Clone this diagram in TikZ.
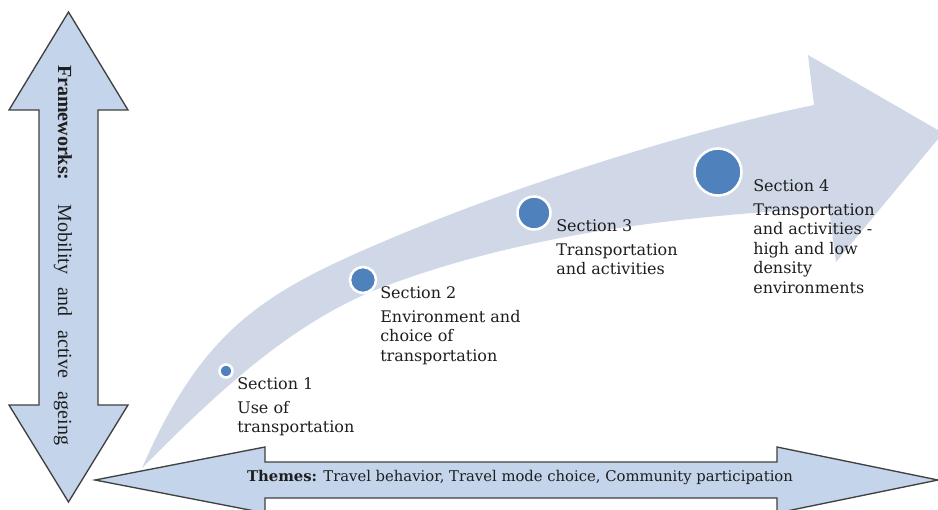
\documentclass[tikz,border=0pt]{standalone}
\usepackage{fontspec}
\setmainfont{Liberation Serif}
\newfontfamily\bookfont{DejaVu Serif}
\usepackage{tikz}
\usetikzlibrary{positioning}

\definecolor{arrowfill}{RGB}{195,212,235}
\definecolor{bandfill}{RGB}{208,216,232}
\definecolor{dotblue}{RGB}{79,129,189}
\definecolor{edgegray}{RGB}{64,64,64}
\definecolor{textdark}{RGB}{30,30,30}

\begin{document}
\begin{tikzpicture}[x=0.75pt,y=0.75pt,yscale=-1,xscale=1,
  dblarrow/.style={fill=arrowfill,draw=edgegray,line width=1pt,line join=miter},
  dot/.style={circle,fill=dotblue,draw=white,line width=1.9pt,inner sep=0pt},
  sectext/.style={anchor=north west,inner sep=0pt,align=left,text=textdark,
    font=\bookfont\fontsize{12}{14.6}\selectfont}]
\clip (0,0) rectangle (938,510);

%Curved arrow
\fill[bandfill] (142,468) .. controls (202,331) and (261,294) .. (380,243)
  .. controls (527,180) and (706,127) .. (814,105)
  -- (808,55) -- (943,133) -- (836,262) -- (829,208)
  .. controls (679,216) and (523,234) .. (383,287)
  .. controls (289.5,322.5) and (212.7,397.3) .. (142,468) -- cycle;

%Double arrow, vertical
\draw[dblarrow] (68.5,12) -- (128,110) -- (98,110) -- (98,405) -- (128,405) -- (68.5,502) -- (9,405) -- (39,405) -- (39,110) -- (9,110) -- cycle;
%Double arrow, horizontal
\draw[dblarrow] (95,480) -- (265,447) -- (265,462) -- (777,462) -- (777,447) -- (938,480) -- (777,513) -- (777,498) -- (265,498) -- (265,513) -- cycle;

% Dots
\node (c1) at (226,371) [dot,minimum size=9.75pt] {};
\node (c2) at (363,280) [dot,minimum size=19.5pt] {};
\node (c3) at (534,213) [dot,minimum size=24.75pt] {};
\node (c4) at (718,172) [dot,minimum size=35.25pt] {};

% Text Node
\node (s1) at (237,377) [sectext] {Section 1\\[3.5pt] Use of\\ transportation};
% Text Node
\node (s2) at (380,286) [sectext] {Section 2\\[3.5pt] Environment and\\ choice of\\ transportation};
% Text Node
\node (s3) at (556,219) [sectext] {Section 3\\[3.5pt] Transportation\\ and activities};
% Text Node
\node (s4) at (753,179) [sectext] {Section 4\\[3.5pt] Transportation\\ and activities -\\ high and low\\ density\\ environments};

% Text Node
\node (frame) at (63,255) [rotate=-90,inner sep=0pt,text=textdark,font=\fontsize{15}{17}\selectfont]
  {\makebox[285pt][s]{\textbf{Frameworks:} Mobility and active ageing}};
% Text Node
\node (themes) at (520,478) [inner sep=0pt,text=textdark,font=\bookfont\fontsize{11.1}{13}\selectfont]
  {\textbf{Themes:} Travel behavior, Travel mode choice, Community participation};

\end{tikzpicture}
\end{document}
